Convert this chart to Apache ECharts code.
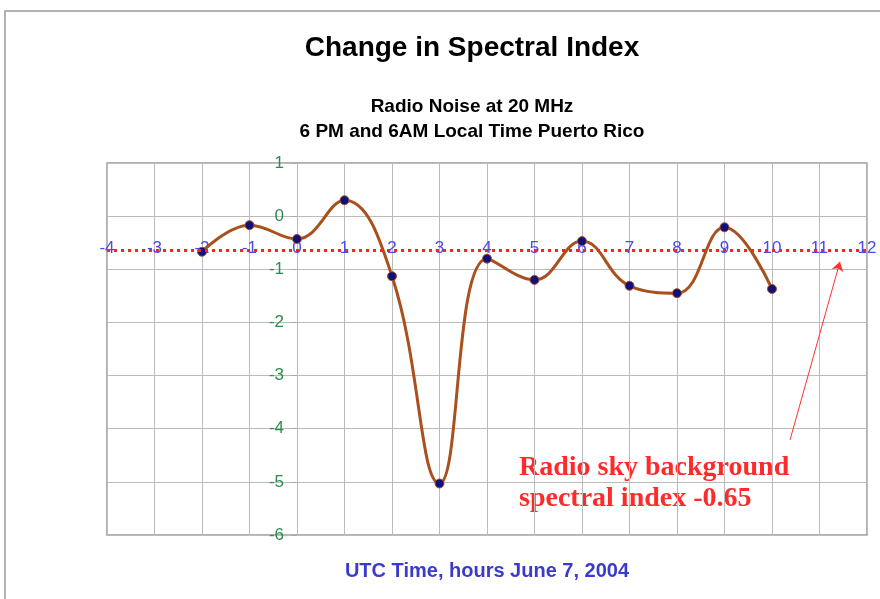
<!DOCTYPE html>
<html>
<head>
<meta charset="utf-8">
<script src="https://cdn.jsdelivr.net/npm/echarts@6/dist/echarts.min.js"></script>
<style>
  html, body { margin: 0; padding: 0; background: #fff; }
  #chart { width: 880px; height: 599px; }
</style>
</head>
<body>
<div id="chart"></div>
<script>
// hours UTC and spectral index change
var hours = [-2, -1, 0, 1, 2, 3, 4, 5, 6, 7, 8, 9, 10];
var spectralIndex = [-0.67, -0.17, -0.43, 0.30, -1.13, -5.03, -0.80, -1.20, -0.47, -1.31, -1.45, -0.21, -1.37];
var background = -0.65;
var xRange = [-4, 12];
var yRange = [-6, 1];
var arrowFrom = [10.38, -4.21];
var arrowTo = [11.43, -0.86];

var gridLeft = 107, gridRight = 13, gridTop = 163, gridBottom = 64;
var gridW = 880 - gridLeft - gridRight, gridH = 599 - gridTop - gridBottom;
// x axis sits at the background level, y axis at hour 0
var xOffset = -gridH * (background - yRange[0]) / (yRange[1] - yRange[0]);
var yOffset = -gridW * (0 - xRange[0]) / (xRange[1] - xRange[0]);

var chart = echarts.init(document.getElementById('chart'));

var points = [];
for (var i = 0; i < hours.length; i++) {
    points.push([hours[i], spectralIndex[i]]);
}

var option = {
    animation: false,
    title: [{
        text: 'Change in Spectral Index',
        left: 467, top: 29, textAlign: 'center',
        textStyle: { fontFamily: 'Liberation Sans', fontSize: 28, fontWeight: 'bold', color: '#000' }
    }, {
        text: 'Radio Noise at 20 MHz\n6 PM and 6AM Local Time Puerto Rico',
        left: 467, top: 89, textAlign: 'center',
        textStyle: { fontFamily: 'Liberation Sans', fontSize: 19, fontWeight: 'bold', color: '#000', lineHeight: 25 }
    }],
    graphic: [{
        type: 'rect',
        shape: { x: 5, y: 11, width: 900, height: 700 },
        style: { fill: 'none', stroke: '#999', lineWidth: 1.5 },
        silent: true
    }, {
        type: 'text',
        left: 519, top: 452,
        style: {
            text: 'Radio sky background\nspectral index -0.65',
            font: 'bold 28px "Liberation Serif"',
            fill: '#ff2a2a',
            lineHeight: 31
        }
    }, {
        type: 'text',
        x: 487, y: 561,
        style: {
            text: 'UTC Time, hours June 7, 2004',
            font: 'bold 20px "Liberation Sans"',
            fill: '#3a3acc',
            align: 'center'
        }
    }],
    grid: {
        left: gridLeft, right: gridRight, top: gridTop, bottom: gridBottom,
        show: true, borderColor: '#999', borderWidth: 1.5
    },
    xAxis: {
        type: 'value',
        min: xRange[0], max: xRange[1], interval: 1,
        position: 'bottom',
        offset: xOffset,
        axisLine: { show: false, onZero: false },
        axisTick: { show: false },
        axisLabel: {
            color: '#4a4ae6', fontFamily: 'Liberation Sans', fontSize: 17,
            margin: -11, showMinLabel: true, showMaxLabel: true
        },
        splitLine: { show: true, lineStyle: { color: '#bbb', width: 1 } }
    },
    yAxis: {
        type: 'value',
        min: yRange[0], max: yRange[1], interval: 1,
        position: 'left',
        offset: yOffset,
        axisLine: { show: true, onZero: false, lineStyle: { color: '#bbb', width: 1 } },
        axisTick: { show: true, length: 6, lineStyle: { color: '#aaa' } },
        axisLabel: {
            color: '#2e8b4e', fontFamily: 'Liberation Sans', fontSize: 17, margin: 13
        },
        splitLine: { show: true, lineStyle: { color: '#bbb', width: 1 } }
    },
    series: [{
        type: 'line',
        data: points,
        smooth: 0.42,
        symbol: 'circle',
        symbolSize: 9,
        lineStyle: { color: '#a9501c', width: 3 },
        itemStyle: { color: '#10107a', borderColor: '#a9501c', borderWidth: 1 },
        z: 3,
        markLine: {
            silent: true,
            symbol: 'none',
            label: { show: false },
            lineStyle: { color: '#ff2020', type: [3, 4], width: 3 },
            data: [{ yAxis: background }]
        }
    }, {
        type: 'line',
        data: [],
        markLine: {
            silent: true,
            symbol: ['none', 'arrow'],
            symbolSize: 9,
            label: { show: false },
            lineStyle: { color: '#ff3030', type: 'solid', width: 1 },
            data: [[{ coord: arrowFrom }, { coord: arrowTo }]]
        }
    }]
};

chart.setOption(option);
</script>
</body>
</html>
